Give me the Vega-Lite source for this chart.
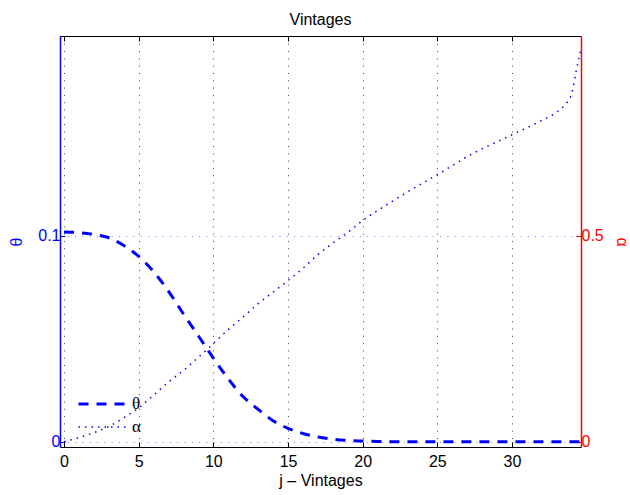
{
  "$schema": "https://vega.github.io/schema/vega-lite/v6.json",
  "width": 521,
  "height": 411,
  "autosize": {"type": "none"},
  "padding": {"left": 60, "top": 36, "right": 49, "bottom": 48},
  "background": "white",
  "title": {"text": "Vintages", "font": "Liberation Sans", "fontSize": 16, "fontWeight": "normal", "color": "black", "offset": 8},
  "config": {
    "view": {"stroke": null},
    "axis": {"labelFont": "Liberation Sans", "titleFont": "Liberation Sans", "labelFontSize": 16, "titleFontSize": 16, "titleFontWeight": "normal"}
  },
  "data": {
    "values": [
      {"series": "θ", "j": 0, "value": 0.1018},
      {"series": "θ", "j": 1, "value": 0.1015},
      {"series": "θ", "j": 2, "value": 0.1006},
      {"series": "θ", "j": 3, "value": 0.0990},
      {"series": "θ", "j": 4, "value": 0.0952},
      {"series": "θ", "j": 5, "value": 0.0900},
      {"series": "θ", "j": 6, "value": 0.0825},
      {"series": "θ", "j": 7, "value": 0.0730},
      {"series": "θ", "j": 8, "value": 0.0620},
      {"series": "θ", "j": 9, "value": 0.0513},
      {"series": "θ", "j": 10, "value": 0.0406},
      {"series": "θ", "j": 11, "value": 0.0305},
      {"series": "θ", "j": 12, "value": 0.0218},
      {"series": "θ", "j": 13, "value": 0.0157},
      {"series": "θ", "j": 14, "value": 0.0102},
      {"series": "θ", "j": 15, "value": 0.0065},
      {"series": "θ", "j": 16, "value": 0.0040},
      {"series": "θ", "j": 17, "value": 0.0023},
      {"series": "θ", "j": 18, "value": 0.0012},
      {"series": "θ", "j": 19, "value": 0.0006},
      {"series": "θ", "j": 20, "value": 0.0003},
      {"series": "θ", "j": 21, "value": 0.0001},
      {"series": "θ", "j": 22, "value": 0.0},
      {"series": "θ", "j": 23, "value": 0.0},
      {"series": "θ", "j": 24, "value": 0.0},
      {"series": "θ", "j": 25, "value": 0.0},
      {"series": "θ", "j": 26, "value": 0.0},
      {"series": "θ", "j": 27, "value": 0.0},
      {"series": "θ", "j": 28, "value": 0.0},
      {"series": "θ", "j": 29, "value": 0.0},
      {"series": "θ", "j": 30, "value": 0.0},
      {"series": "θ", "j": 31, "value": 0.0},
      {"series": "θ", "j": 32, "value": 0.0},
      {"series": "θ", "j": 33, "value": 0.0},
      {"series": "θ", "j": 34, "value": 0.0},
      {"series": "θ", "j": 34.6, "value": 0.0},
      {"series": "α", "j": 0, "value": 0.0},
      {"series": "α", "j": 1, "value": 0.010},
      {"series": "α", "j": 2, "value": 0.022},
      {"series": "α", "j": 3, "value": 0.037},
      {"series": "α", "j": 4, "value": 0.058},
      {"series": "α", "j": 5, "value": 0.082},
      {"series": "α", "j": 6, "value": 0.113},
      {"series": "α", "j": 7, "value": 0.145},
      {"series": "α", "j": 8, "value": 0.173},
      {"series": "α", "j": 9, "value": 0.205},
      {"series": "α", "j": 10, "value": 0.238},
      {"series": "α", "j": 11, "value": 0.272},
      {"series": "α", "j": 12, "value": 0.303},
      {"series": "α", "j": 13, "value": 0.335},
      {"series": "α", "j": 14, "value": 0.363},
      {"series": "α", "j": 15, "value": 0.391},
      {"series": "α", "j": 16, "value": 0.421},
      {"series": "α", "j": 17, "value": 0.454},
      {"series": "α", "j": 18, "value": 0.482},
      {"series": "α", "j": 19, "value": 0.508},
      {"series": "α", "j": 20, "value": 0.537},
      {"series": "α", "j": 21, "value": 0.561},
      {"series": "α", "j": 22, "value": 0.584},
      {"series": "α", "j": 23, "value": 0.606},
      {"series": "α", "j": 24, "value": 0.627},
      {"series": "α", "j": 25, "value": 0.648},
      {"series": "α", "j": 26, "value": 0.670},
      {"series": "α", "j": 27, "value": 0.692},
      {"series": "α", "j": 28, "value": 0.711},
      {"series": "α", "j": 29, "value": 0.728},
      {"series": "α", "j": 30, "value": 0.745},
      {"series": "α", "j": 31, "value": 0.762},
      {"series": "α", "j": 32, "value": 0.780},
      {"series": "α", "j": 33, "value": 0.800},
      {"series": "α", "j": 33.5, "value": 0.816},
      {"series": "α", "j": 34, "value": 0.845},
      {"series": "α", "j": 34.3, "value": 0.900},
      {"series": "α", "j": 34.6, "value": 0.950}
    ]
  },
  "layer": [
    {
      "transform": [{"filter": "datum.series === 'θ'"}],
      "mark": {"type": "line", "color": "#0000ff", "interpolate": "monotone"},
      "encoding": {
        "x": {
          "field": "j", "type": "quantitative",
          "scale": {"domain": [-0.27, 34.62], "nice": false, "zero": false},
          "axis": {
            "orient": "bottom", "values": [0, 5, 10, 15, 20, 25, 30],
            "grid": true, "gridColor": "#444444", "gridDash": [1, 6.3], "gridWidth": 1,
            "domainColor": "black", "domainWidth": 1.2, "tickColor": "black", "tickSize": -5,
            "labelColor": "black", "labelPadding": 11, "labelFlush": false,
            "title": "j – Vintages", "titleColor": "black", "titlePadding": 3
          }
        },
        "y": {
          "field": "value", "type": "quantitative",
          "scale": {"domain": [-0.00257, 0.19694], "nice": false, "zero": false},
          "axis": {
            "orient": "left", "values": [0, 0.1], "format": "~g",
            "grid": true, "gridColor": "#7f7fff", "gridDash": [1, 6.3], "gridWidth": 1,
            "domainColor": "#0000ff", "domainWidth": 1.5, "tickColor": "#0000ff", "tickSize": -5,
            "labelColor": "#0000ff", "labelPadding": 5,
            "title": "θ", "titleColor": "#0000ff", "titlePadding": 13
          }
        },
        "strokeDash": {
          "field": "series", "type": "nominal",
          "scale": {"domain": ["θ", "α"], "range": [[10, 8], [1.5, 5]]},
          "legend": {
            "title": null, "orient": "none", "legendX": 17, "legendY": 360,
            "symbolType": "stroke", "symbolSize": 2304, "symbolStrokeColor": "#0000ff",
            "labelFont": "Liberation Serif", "labelFontSize": 17, "labelColor": "black",
            "clipHeight": 16, "rowPadding": 6, "padding": 0, "labelOffset": 4
          }
        },
        "strokeWidth": {
          "field": "series", "type": "nominal",
          "scale": {"domain": ["θ", "α"], "range": [3, 1.5]},
          "legend": {
            "title": null, "orient": "none", "legendX": 17, "legendY": 360,
            "symbolType": "stroke", "symbolSize": 2304, "symbolStrokeColor": "#0000ff",
            "labelFont": "Liberation Serif", "labelFontSize": 17, "labelColor": "black",
            "clipHeight": 16, "rowPadding": 6, "padding": 0, "labelOffset": 4
          }
        }
      }
    },
    {
      "transform": [{"filter": "datum.series === 'α'"}],
      "mark": {"type": "line", "color": "#0000ff", "interpolate": "monotone"},
      "encoding": {
        "x": {
          "field": "j", "type": "quantitative",
          "scale": {"domain": [-0.27, 34.62], "nice": false, "zero": false},
          "axis": {
            "orient": "top", "values": [0, 5, 10, 15, 20, 25, 30],
            "labels": false, "grid": false, "title": null,
            "domainColor": "black", "domainWidth": 1.2, "tickColor": "black", "tickSize": -5
          }
        },
        "y": {
          "field": "value", "type": "quantitative",
          "scale": {"domain": [-0.01286, 0.9847], "nice": false, "zero": false},
          "axis": {
            "orient": "right", "values": [0, 0.5], "format": "~g", "grid": false,
            "domainColor": "#ff0000", "domainWidth": 1.5, "tickColor": "#ff0000", "tickSize": -5,
            "labelColor": "#ff0000", "labelPadding": 5,
            "title": "α", "titleColor": "#ff0000", "titlePadding": 10
          }
        },
        "strokeDash": {"field": "series", "type": "nominal"},
        "strokeWidth": {"field": "series", "type": "nominal"}
      }
    }
  ],
  "resolve": {"scale": {"y": "independent"}, "axis": {"x": "independent"}}
}
